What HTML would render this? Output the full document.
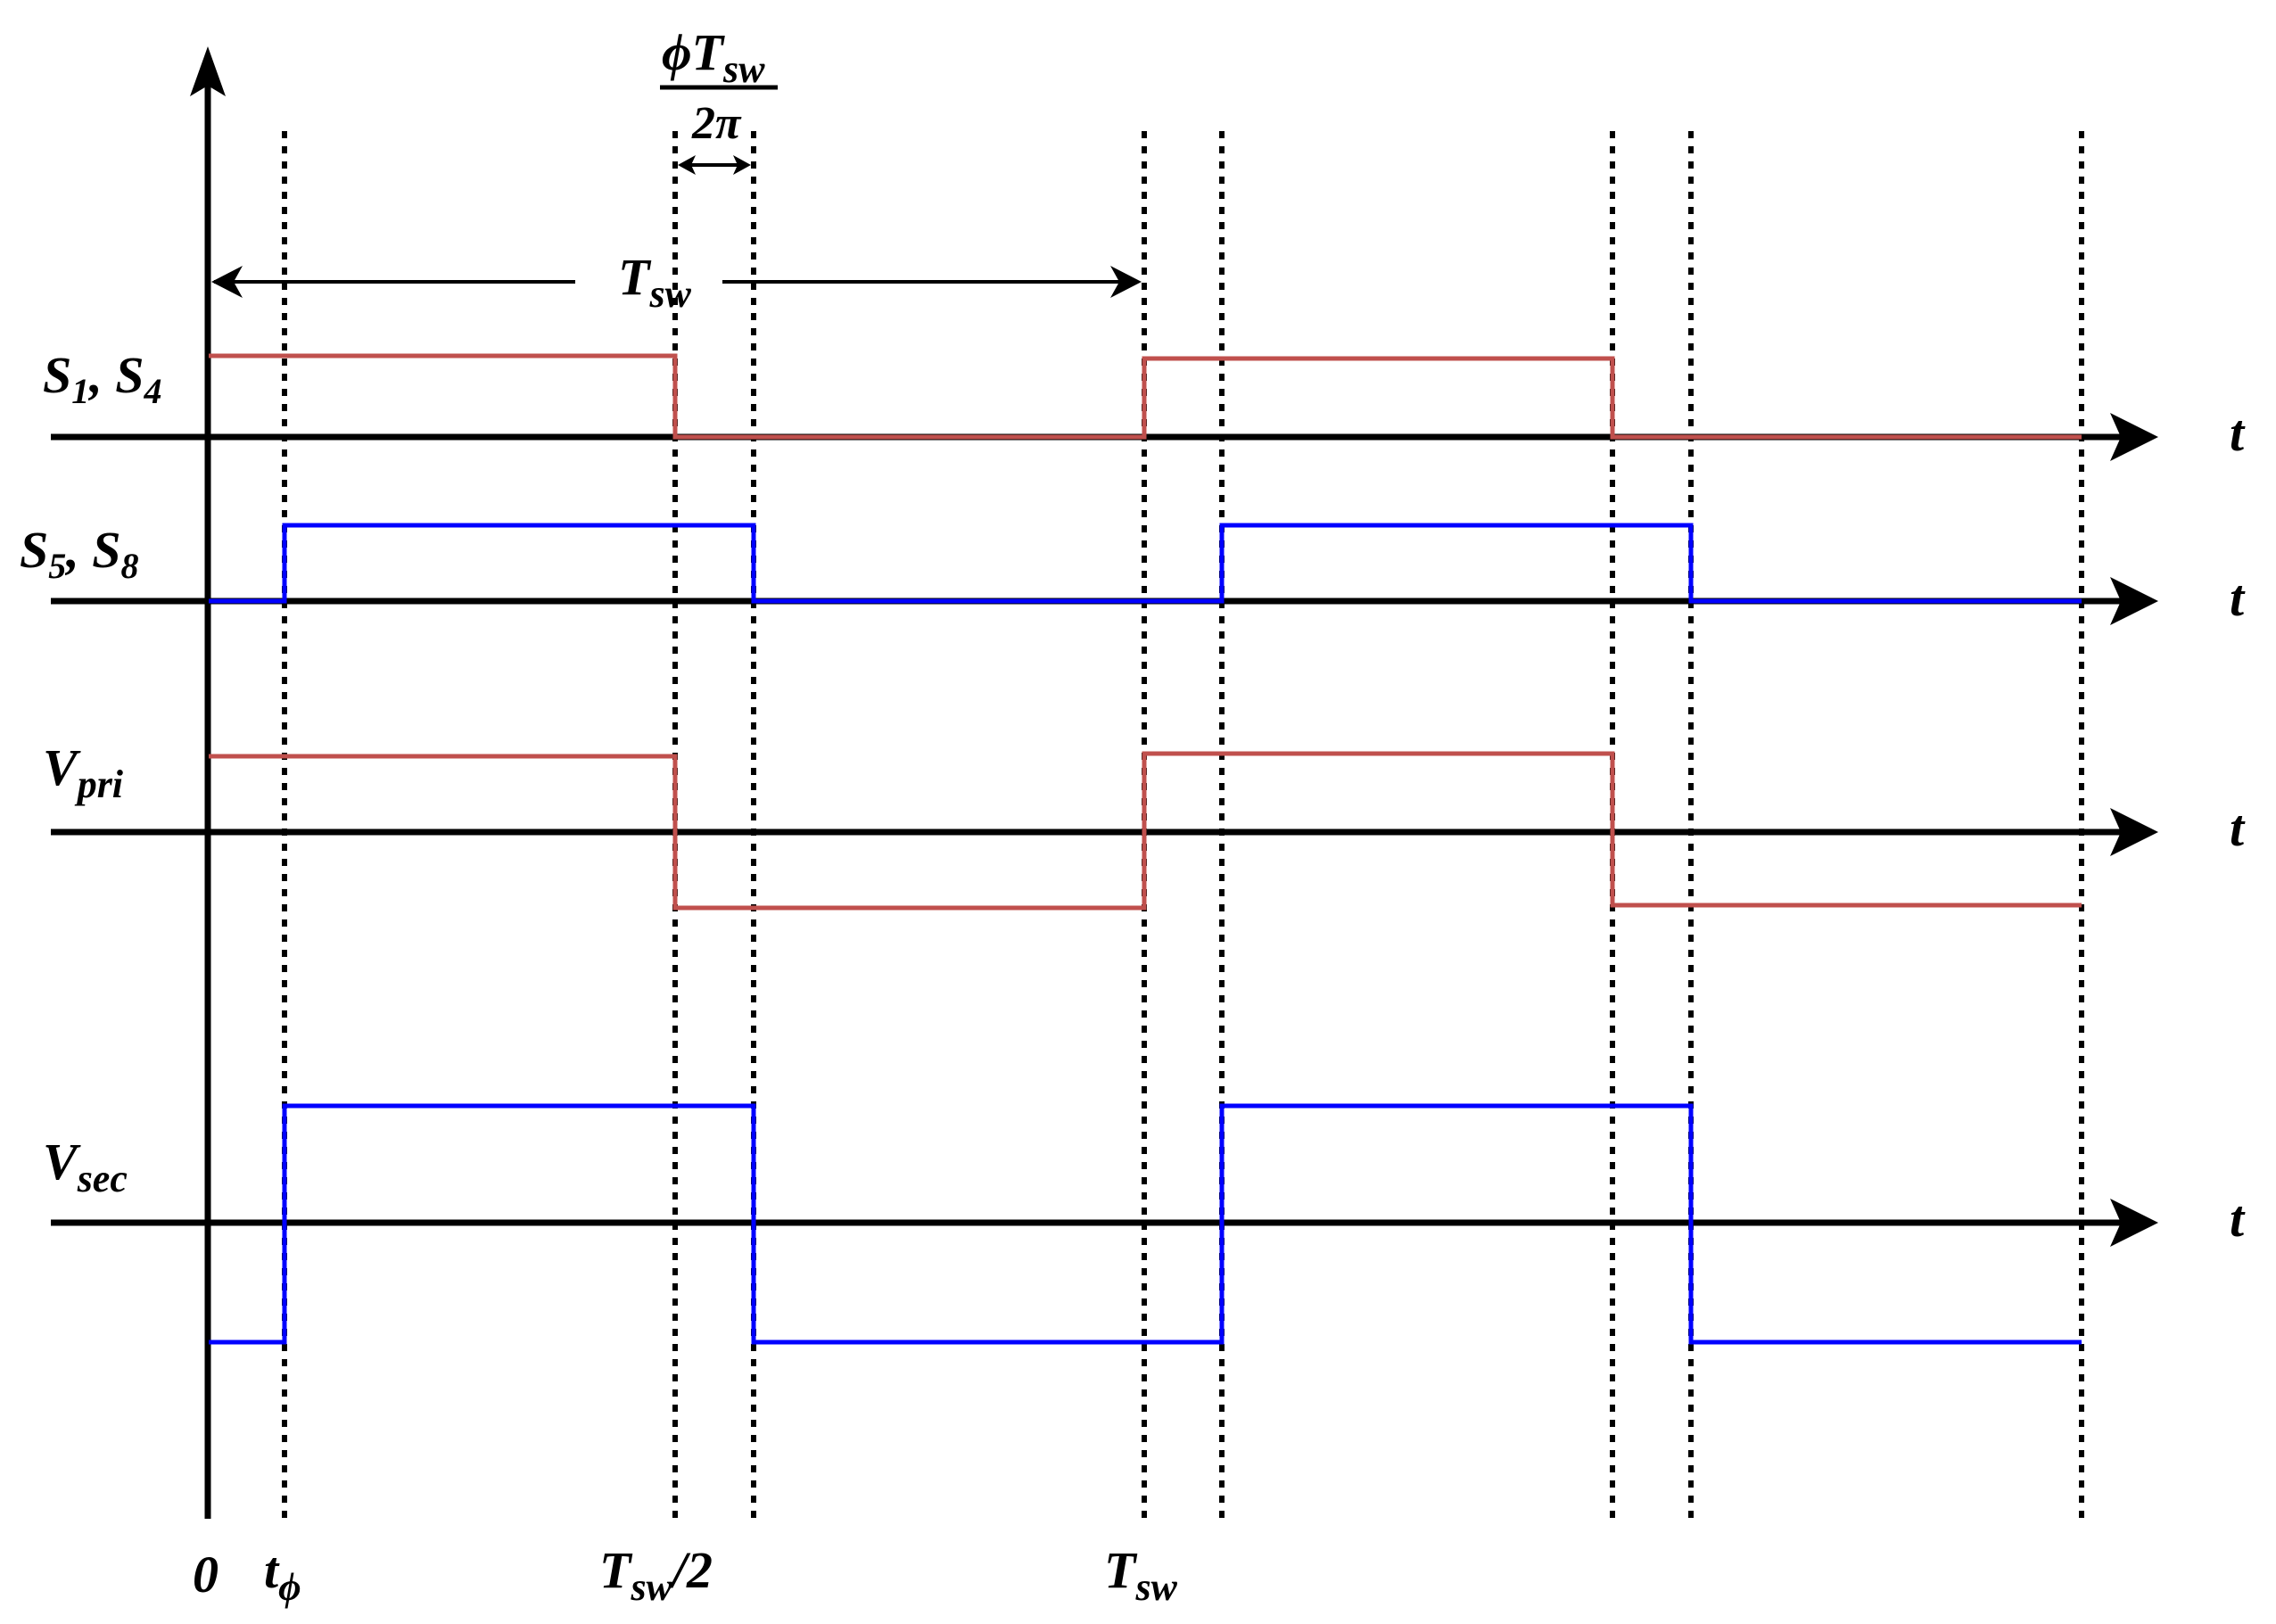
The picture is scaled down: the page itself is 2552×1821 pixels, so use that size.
<!DOCTYPE html>
<html><head><meta charset="utf-8"><style>
html,body{margin:0;padding:0;background:#fff;}
svg{display:block;}
text{font-family:"Liberation Serif",serif;font-style:italic;font-weight:bold;fill:#000;}
</style></head><body>
<svg width="2552" height="1821" viewBox="0 0 2552 1821" xmlns="http://www.w3.org/2000/svg">
<defs>
<marker id="ah" markerWidth="10" markerHeight="10" refX="9" refY="5" orient="auto" markerUnits="userSpaceOnUse"></marker>
</defs>
<!-- dotted lines -->
<g stroke="#000" stroke-width="6" stroke-dasharray="8,9" fill="none">
<line x1="319" y1="147" x2="319" y2="1705"/>
<line x1="757" y1="147" x2="757" y2="1705"/>
<line x1="845" y1="147" x2="845" y2="1705"/>
<line x1="1283" y1="147" x2="1283" y2="1705"/>
<line x1="1370" y1="147" x2="1370" y2="1705"/>
<line x1="1808" y1="147" x2="1808" y2="1705"/>
<line x1="1896" y1="147" x2="1896" y2="1705"/>
<line x1="2334" y1="147" x2="2334" y2="1705"/>
</g>
<!-- axes -->
<g stroke="#000" stroke-width="7" fill="none">
<line x1="233" y1="90" x2="233" y2="1703"/>
<line x1="57" y1="490" x2="2380" y2="490"/>
<line x1="57" y1="674" x2="2380" y2="674"/>
<line x1="57" y1="933" x2="2380" y2="933"/>
<line x1="57" y1="1371" x2="2380" y2="1371"/>
</g>
<g fill="#000">
<path d="M233,52 L213,108 L233,96 L253,108 Z"/>
<path d="M2420,490 L2366,463 L2378,490 L2366,517 Z"/>
<path d="M2420,674 L2366,647 L2378,674 L2366,701 Z"/>
<path d="M2420,933 L2366,906 L2378,933 L2366,960 Z"/>
<path d="M2420,1371 L2366,1344 L2378,1371 L2366,1398 Z"/>
</g>
<!-- Tsw dimension -->
<g stroke="#000" stroke-width="4" fill="none">
<line x1="240" y1="316" x2="645" y2="316"/>
<line x1="810" y1="316" x2="1276" y2="316"/>
<line x1="764" y1="185" x2="838" y2="185"/>
<line x1="740" y1="98" x2="872" y2="98" stroke-width="5"/>
</g>
<g fill="#000">
<path d="M237,316 L272,298 L262,316 L272,334 Z"/>
<path d="M1280,316 L1245,298 L1255,316 L1245,334 Z"/>
<path d="M760,185 L780,174 L775,185 L780,196 Z"/>
<path d="M842,185 L822,174 L827,185 L822,196 Z"/>
</g>
<!-- signals -->
<g fill="none" stroke-width="5" stroke-linejoin="miter">
<polyline stroke="#c0504d" points="234,399 757,399 757,490 1283,490 1283,402 1808,402 1808,490 2334,490"/>
<polyline stroke="#0000ff" points="234,674 319,674 319,589 845,589 845,674 1370,674 1370,589 1896,589 1896,674 2334,674"/>
<polyline stroke="#c0504d" points="234,848 757,848 757,1018 1283,1018 1283,845 1808,845 1808,1015 2334,1015"/>
<polyline stroke="#0000ff" points="234,1505 319,1505 319,1240 845,1240 845,1505 1370,1505 1370,1240 1896,1240 1896,1505 2334,1505"/>
</g>
<!-- labels -->
<g font-size="58">
<text x="48" y="440">S<tspan font-size="40" dy="12">1</tspan><tspan dy="-12">, S</tspan><tspan font-size="40" dy="12">4</tspan></text>
<text x="22" y="636">S<tspan font-size="40" dy="12">5</tspan><tspan dy="-12">, S</tspan><tspan font-size="40" dy="12">8</tspan></text>
<text x="48" y="880">V<tspan font-size="44" dy="14">pri</tspan></text>
<text x="48" y="1322">V<tspan font-size="44" dy="14">sec</tspan></text>
<text x="2500" y="505">t</text>
<text x="2500" y="690">t</text>
<text x="2500" y="948">t</text>
<text x="2500" y="1386">t</text>
<text x="693" y="330">T<tspan font-size="44" dy="14">sw</tspan></text>
<text x="742" y="78">ϕT<tspan font-size="44" dy="14">sw</tspan></text>
<text x="776" y="155" font-size="52">2π</text>
<text x="216" y="1785">0</text>
<text x="296" y="1780">t<tspan font-size="44" dy="14">ϕ</tspan></text>
<text x="672" y="1780">T<tspan font-size="44" dy="14">sw</tspan><tspan dy="-14">/2</tspan></text>
<text x="1238" y="1780">T<tspan font-size="44" dy="14">sw</tspan></text>
</g>
</svg>
</body></html>
